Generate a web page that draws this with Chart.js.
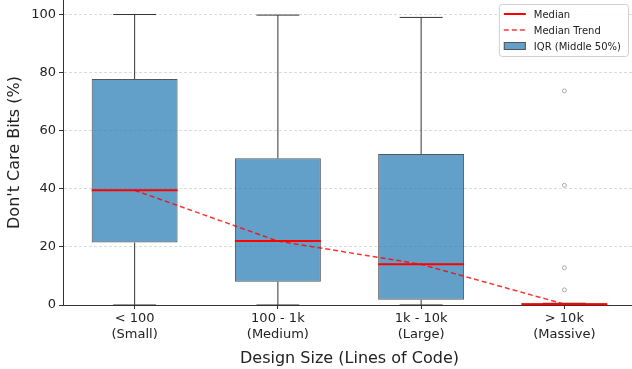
<!DOCTYPE html>
<html>
<head>
<meta charset="utf-8">
<script src="https://cdn.jsdelivr.net/npm/chart.js@4.4.0/dist/chart.umd.min.js"></script>
<style>
  html, body { margin: 0; padding: 0; background: #fff; overflow: hidden; }
  #wrap { width: 636px; height: 369px; }
</style>
</head>
<body>
<div id="wrap"><canvas id="boxChart"></canvas></div>
<script>
// values
const categories = ['< 100', '100 - 1k', '1k - 10k', '> 10k'];
const subLabels = ['(Small)', '(Medium)', '(Large)', '(Massive)'];
const whiskerLow = [0, 0, 0, 0];
const q1 = [21.5, 8, 1.8, 0];
const medians = [39.5, 22, 14, 0.3];
const q3 = [77.8, 50.5, 52, 0.6];
const whiskerHigh = [100, 99.8, 99, 0.6];
const outlierCats = ['> 10k', '> 10k', '> 10k', '> 10k'];
const outlierVals = [73.7, 41.2, 12.8, 5.2];
const yTicks = [0, 20, 40, 60, 80, 100];
const legendLabels = ['Median', 'Median Trend', 'IQR (Middle 50%)'];

const FONT = '"DejaVu Sans", "Liberation Sans", sans-serif';
const RED = '#ff0000';
const BOX_FILL = 'rgba(31, 119, 180, 0.7)';
const BOX_EDGE = '#555';

// whiskers, caps and medians, placed with the chart's scales
const boxExtras = {
  id: 'boxExtras',
  afterDatasetDraw(chart, args) {
    if (args.index !== 0) return;
    const { ctx } = chart;
    const x = chart.scales.x, y = chart.scales.y;
    const meta = chart.getDatasetMeta(0);
    ctx.save();
    categories.forEach((c, i) => {
      const bar = meta.data[i];
      const cx = x.getPixelForValue(i);
      const half = bar.width / 2;
      // whiskers
      ctx.strokeStyle = '#333';
      ctx.lineWidth = 1;
      ctx.beginPath();
      ctx.moveTo(cx, y.getPixelForValue(q3[i]));
      ctx.lineTo(cx, y.getPixelForValue(whiskerHigh[i]));
      ctx.moveTo(cx, y.getPixelForValue(q1[i]));
      ctx.lineTo(cx, y.getPixelForValue(whiskerLow[i]));
      // caps
      const hy = y.getPixelForValue(whiskerHigh[i]);
      const ly = y.getPixelForValue(whiskerLow[i]);
      ctx.moveTo(cx - half / 2, hy);
      ctx.lineTo(cx + half / 2, hy);
      ctx.moveTo(cx - half / 2, ly);
      ctx.lineTo(cx + half / 2, ly);
      ctx.stroke();
      // median
      const my = y.getPixelForValue(medians[i]);
      ctx.strokeStyle = RED;
      ctx.lineWidth = 2;
      ctx.beginPath();
      ctx.moveTo(cx - half, my);
      ctx.lineTo(cx + half, my);
      ctx.stroke();
    });
    ctx.restore();
  },
  afterDraw(chart) {
    const { ctx, chartArea } = chart;
    ctx.save();
    ctx.font = '10px ' + FONT;
    const maxW = Math.max(...legendLabels.map(t => ctx.measureText(t).width));
    const w = 5 + 22 + 8 + maxW + 7;
    const h = 52;
    const left = chartArea.right - 8 - w;
    const top = chartArea.top + 4;
    ctx.fillStyle = 'rgba(255,255,255,0.85)';
    ctx.strokeStyle = '#d0d0d0';
    ctx.lineWidth = 1;
    ctx.beginPath();
    ctx.roundRect(left + 0.5, top + 0.5, w, h, 3);
    ctx.fill();
    ctx.stroke();
    const rows = [top + 10, top + 26, top + 42];
    const hx = left + 5;
    // Median
    ctx.strokeStyle = RED;
    ctx.lineWidth = 2;
    ctx.beginPath();
    ctx.moveTo(hx, rows[0]);
    ctx.lineTo(hx + 22, rows[0]);
    ctx.stroke();
    // Median Trend
    ctx.strokeStyle = 'rgba(255,0,0,0.8)';
    ctx.lineWidth = 1.5;
    ctx.setLineDash([5, 3]);
    ctx.beginPath();
    ctx.moveTo(hx, rows[1]);
    ctx.lineTo(hx + 22, rows[1]);
    ctx.stroke();
    ctx.setLineDash([]);
    // IQR
    ctx.fillStyle = BOX_FILL;
    ctx.strokeStyle = BOX_EDGE;
    ctx.lineWidth = 1;
    ctx.fillRect(hx, rows[2] - 4, 22, 8);
    ctx.strokeRect(hx + 0.5, rows[2] - 3.5, 21, 7);
    ctx.fillStyle = '#222';
    ctx.textBaseline = 'middle';
    legendLabels.forEach((t, i) => ctx.fillText(t, hx + 30, rows[i] + 1));
    ctx.restore();
  }
};

const ctx = document.getElementById('boxChart').getContext('2d');
new Chart(ctx, {
  data: {
    labels: categories,
    datasets: [
      {
        type: 'bar',
        label: 'IQR (Middle 50%)',
        data: categories.map((c, i) => [q1[i], q3[i]]),
        backgroundColor: BOX_FILL,
        borderColor: BOX_EDGE,
        borderWidth: 1,
        borderSkipped: false,
        barPercentage: 0.6,
        categoryPercentage: 1,
        order: 3
      },
      {
        type: 'scatter',
        label: 'Outliers',
        data: outlierCats.map((c, i) => ({ x: c, y: outlierVals[i] })),
        pointRadius: 2,
        pointBackgroundColor: 'rgba(255,255,255,0)',
        pointBorderColor: '#aaa',
        pointBorderWidth: 1,
        order: 2
      },
      {
        type: 'line',
        label: 'Median Trend',
        data: medians,
        borderColor: 'rgba(255,0,0,0.8)',
        borderWidth: 1.5,
        borderDash: [5, 3],
        pointRadius: 0,
        fill: false,
        tension: 0,
        order: 1
      }
    ]
  },
  options: {
    responsive: true,
    maintainAspectRatio: false,
    animation: false,
    events: [],
    layout: { autoPadding: false, padding: { left: 5, right: 0, top: 0, bottom: 0.6 } },
    plugins: { legend: { display: false }, tooltip: { enabled: false } },
    scales: {
      x: {
        type: 'category',
        offset: true,
        grid: { display: true, offset: false, drawOnChartArea: false, drawTicks: true, tickLength: 4, tickColor: '#333', tickBorderDash: [] },
        border: { color: '#333', width: 1 },
        ticks: {
          color: '#222',
          padding: 2,
          font: { family: FONT, size: 13, lineHeight: 1.2 },
          callback: (v, i) => [categories[i], subLabels[i]]
        },
        title: {
          display: true,
          text: 'Design Size (Lines of Code)',
          color: '#222',
          font: { family: FONT, size: 16, lineHeight: 1.2 },
          padding: { top: 5, bottom: 0 }
        }
      },
      y: {
        min: 0,
        max: 105,
        afterBuildTicks: (scale) => { scale.ticks = yTicks.map(v => ({ value: v })); },
        afterFit: (scale) => { scale.paddingTop = 0; },
        grid: {
          color: (c) => (c.tick && c.tick.value === 0) ? 'rgba(0,0,0,0)' : 'rgba(0,0,0,0.14)',
          lineWidth: 1,
          tickLength: 4,
          tickColor: '#333',
          tickBorderDash: []
        },
        border: { color: '#333', width: 1, dash: [3, 2] },
        ticks: {
          color: '#222',
          padding: 3,
          font: { family: FONT, size: 13 }
        },
        title: {
          display: true,
          text: "Don't Care Bits (%)",
          color: '#222',
          font: { family: FONT, size: 16, lineHeight: 1.2 },
          padding: { top: 0, bottom: 4 }
        }
      }
    }
  },
  plugins: [boxExtras]
});
</script>
</body>
</html>
